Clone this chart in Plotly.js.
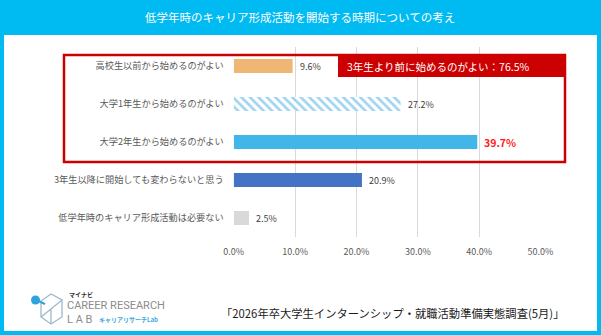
<!DOCTYPE html>
<html>
<head>
<meta charset="utf-8">
<script src="https://cdn.plot.ly/plotly-3.0.1.min.js"></script>
<style>html,body{margin:0;padding:0;background:#fff;}#chart{width:601px;height:335px;}</style>
</head>
<body>
<div id="chart"></div>
<script>
// ---- data ----
const categories = [
  '高校生以前から始めるのがよい',
  '大学1年生から始めるのがよい',
  '大学2年生から始めるのがよい',
  '3年生以降に開始しても変わらないと思う',
  '低学年時のキャリア形成活動は必要ない'
];
const values = [9.6, 27.2, 39.7, 20.9, 2.5];
const barColors = ['#F0B673', '#FFFFFF', '#40B7E8', '#4472C4', '#D9D9D9'];
const hatchedIndex = 1;
const highlightIndex = 2;
const xTicks = [0, 10, 20, 30, 40, 50];
const titleText = '低学年時のキャリア形成活動を開始する時期についての考え';
const calloutText = '3年生より前に始めるのがよい：76.5%';
const sourceText = '「2026年卒大学生インターンシップ・就職活動準備実態調査(5月)」';

// ---- helpers: pixel -> paper ----
const W = 601, H = 335;
const X = px => px / W;
const Y = py => 1 - py / H;
const FONT = '"Noto Sans CJK JP", "Noto Sans", sans-serif';
const CYAN = '#00BAF2';
const RED = '#CC0000';

const solidTrace = {
  type: 'bar', orientation: 'h',
  y: categories,
  x: values.map((v, i) => i === hatchedIndex ? null : v),
  marker: {color: barColors, line: {width: 0}},
  hoverinfo: 'skip'
};
const hatchTrace = {
  type: 'bar', orientation: 'h',
  y: categories,
  x: values.map((v, i) => i === hatchedIndex ? v : null),
  marker: {
    color: '#FFFFFF', line: {width: 0},
    pattern: {shape: '\\', fgcolor: '#9CD3EE', bgcolor: '#FFFFFF', size: 6, solidity: 0.42, fillmode: 'replace'}
  },
  hoverinfo: 'skip'
};

const annotations = values.map((v, i) => ({
  x: v, y: categories[i], xref: 'x', yref: 'y',
  text: i === highlightIndex ? '<b>' + v.toFixed(1) + '%</b>' : v.toFixed(1) + '%',
  showarrow: false, xanchor: 'left', xshift: 5,
  font: {family: FONT, size: i === highlightIndex ? 10.5 : 9, color: i === highlightIndex ? '#FF1A1A' : '#404040'}
}));

annotations.push(
  {x: X(300), y: Y(17), xref: 'paper', yref: 'paper', text: titleText, showarrow: false,
   xanchor: 'center', yanchor: 'middle', font: {family: FONT, size: 11.5, color: '#FFFFFF'}},
  {x: X(345), y: Y(66), xref: 'paper', yref: 'paper', text: calloutText, showarrow: false,
   xanchor: 'left', yanchor: 'middle', font: {family: FONT, size: 10.5, color: '#FFFFFF'}},
  {x: X(566), y: Y(313), xref: 'paper', yref: 'paper', text: sourceText, showarrow: false,
   xanchor: 'right', yanchor: 'middle', font: {family: FONT, size: 11.3, color: '#1a1a1a'}},
  {x: X(67), y: Y(294), xref: 'paper', yref: 'paper', text: '<b>マイナビ</b>', showarrow: false,
   xanchor: 'left', yanchor: 'middle', font: {family: FONT, size: 6, color: '#333'}},
  {x: X(65), y: Y(305), xref: 'paper', yref: 'paper', text: 'CAREER RESEARCH', showarrow: false,
   xanchor: 'left', yanchor: 'middle', font: {family: 'Roboto, sans-serif', size: 11, color: '#8C8C8C'}},
  {x: X(65), y: Y(319), xref: 'paper', yref: 'paper', text: 'L A B', showarrow: false,
   xanchor: 'left', yanchor: 'middle', font: {family: 'Roboto, sans-serif', size: 11, color: '#8C8C8C'}},
  {x: X(97), y: Y(319), xref: 'paper', yref: 'paper', text: '<b>キャリアリサーチLab</b>', showarrow: false,
   xanchor: 'left', yanchor: 'middle', font: {family: FONT, size: 6, color: '#3AA8DE'}}
);

const shapes = [
  {type: 'rect', xref: 'paper', yref: 'paper', x0: 0, x1: 1, y0: Y(35), y1: 1, fillcolor: CYAN, line: {width: 0}, layer: 'below'},
  {type: 'rect', xref: 'paper', yref: 'paper', x0: X(2), x1: X(599), y0: Y(333), y1: Y(2), line: {color: CYAN, width: 4}, fillcolor: 'rgba(0,0,0,0)'},
  {type: 'rect', xref: 'paper', yref: 'paper', x0: X(64), x1: X(565), y0: Y(162), y1: Y(55), line: {color: RED, width: 2.5}, fillcolor: 'rgba(0,0,0,0)'},
  {type: 'rect', xref: 'paper', yref: 'paper', x0: X(338), x1: X(566), y0: Y(77), y1: Y(54), line: {width: 0}, fillcolor: RED},
  {type: 'path', xref: 'paper', yref: 'paper',
   path: `M ${X(41)} ${Y(301)} L ${X(51)} ${Y(294)} L ${X(62)} ${Y(300)} L ${X(62)} ${Y(317)} L ${X(51)} ${Y(324)} L ${X(41)} ${Y(317)} Z`,
   line: {color: '#9FB9CC', width: 1.3}, fillcolor: 'rgba(0,0,0,0)'},
  {type: 'path', xref: 'paper', yref: 'paper',
   path: `M ${X(51)} ${Y(324)} L ${X(51)} ${Y(309)} L ${X(62)} ${Y(300)} M ${X(51)} ${Y(309)} L ${X(41)} ${Y(317)}`,
   line: {color: '#9FB9CC', width: 1.3}},
  {type: 'line', xref: 'paper', yref: 'paper', x0: X(36), y0: Y(300), x1: X(45), y1: Y(304), line: {color: '#2FA3DC', width: 2}},
  {type: 'circle', xref: 'paper', yref: 'paper', x0: X(31), x1: X(40), y0: Y(304.5), y1: Y(295.5), fillcolor: '#2FA3DC', line: {width: 0}}
];

const layout = {
  width: W, height: H,
  margin: {l: 0, r: 0, t: 0, b: 0},
  paper_bgcolor: '#FFFFFF', plot_bgcolor: '#FFFFFF',
  showlegend: false,
  barmode: 'overlay',
  bargap: 0.63,
  font: {family: FONT},
  xaxis: {
    domain: [X(233.7), X(540.5)],
    range: [0, 50], tickvals: xTicks, ticktext: xTicks.map(t => t.toFixed(1) + '%'),
    showgrid: true, gridcolor: '#D9D9D9', gridwidth: 1,
    zeroline: false, showline: false, ticks: '',
    tickfont: {family: FONT, size: 9, color: '#595959'},
    ticklabelstandoff: 8, fixedrange: true
  },
  yaxis: {
    domain: [Y(237), Y(47)],
    type: 'category', autorange: 'reversed',
    showgrid: false, zeroline: false, showline: false, ticks: '',
    tickfont: {family: FONT, size: 9.2, color: '#595959'},
    ticklabelstandoff: 9, fixedrange: true
  },
  shapes: shapes,
  annotations: annotations
};

Plotly.newPlot('chart', [solidTrace, hatchTrace], layout, {staticPlot: true, displayModeBar: false});
</script>
</body>
</html>
